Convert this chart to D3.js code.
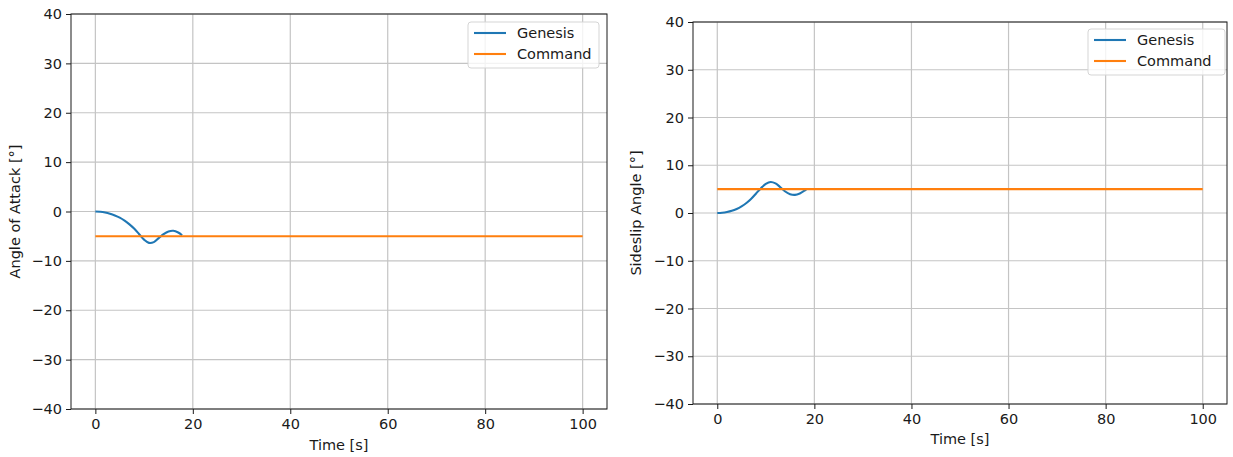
<!DOCTYPE html>
<html>
<head>
<meta charset="utf-8">
<script src="https://cdn.jsdelivr.net/npm/d3@7"></script>
<style>
  html, body { margin: 0; padding: 0; background: #fff; }
  svg { display: block; }
  text { font-family: "DejaVu Sans", sans-serif; fill: #1a1a1a; }
</style>
</head>
<body>
<svg id="chart" width="1233" height="457"></svg>
<script>
// ---------- DATA ----------
const xTicks = [0, 20, 40, 60, 80, 100];
const yTicks = [-40, -30, -20, -10, 0, 10, 20, 30, 40];
const seriesNames = ["Genesis", "Command"];

// Left panel: angle of attack
const aoaTime    = [0, 1, 2, 3, 4, 5, 6, 7, 8, 9, 10, 11, 12, 13, 14, 15, 16, 17, 17.8];
const aoaGenesis = [0, -0.05, -0.2, -0.45, -0.8, -1.25, -1.85, -2.6, -3.5, -4.6, -5.7, -6.35, -6.2, -5.4, -4.6, -4.05, -3.9, -4.25, -4.8];
const aoaCmdTime = [0, 100];
const aoaCommand = [-5, -5];

// Right panel: sideslip angle
const betaTime    = [0, 1, 2, 3, 4, 5, 6, 7, 8, 9, 10, 11, 12, 13, 14, 15, 16, 17, 18, 18.4];
const betaGenesis = [0, 0.05, 0.2, 0.45, 0.85, 1.4, 2.1, 3.0, 4.1, 5.2, 6.1, 6.5, 6.2, 5.4, 4.5, 3.95, 3.8, 4.1, 4.7, 5.0];
const betaCmdTime = [0, 100];
const betaCommand = [5, 5];

const colors = ["#1f77b4", "#ff7f0e"];

// ---------- DRAW ----------
const svg = d3.select("#chart");
const FS = 14.5;

function panel(opt) {
  const g = svg.append("g");
  const x = d3.scaleLinear().domain([-5, 105]).range([opt.left, opt.right]);
  const y = d3.scaleLinear().domain([-40, 40]).range([opt.bottom, opt.top]);

  // grid
  g.append("g").selectAll("line").data(xTicks).join("line")
    .attr("x1", d => x(d)).attr("x2", d => x(d))
    .attr("y1", opt.top).attr("y2", opt.bottom)
    .attr("stroke", "#c4c4c4").attr("stroke-width", 1.2);
  g.append("g").selectAll("line").data(yTicks).join("line")
    .attr("x1", opt.left).attr("x2", opt.right)
    .attr("y1", d => y(d)).attr("y2", d => y(d))
    .attr("stroke", "#c4c4c4").attr("stroke-width", 1.2);

  // lines
  const line = d3.line().x(d => x(d[0])).y(d => y(d[1])).curve(d3.curveCatmullRom.alpha(0.5));
  const gen = opt.t.map((t, i) => [t, opt.gen[i]]);
  const cmd = opt.ct.map((t, i) => [t, opt.cmd[i]]);
  g.append("path").datum(gen).attr("d", line)
    .attr("fill", "none").attr("stroke", colors[0]).attr("stroke-width", 2.1);
  g.append("path").datum(cmd).attr("d", line)
    .attr("fill", "none").attr("stroke", colors[1]).attr("stroke-width", 2.1);

  // axes
  const xAxis = d3.axisBottom(x).tickValues(xTicks).tickSize(5).tickPadding(5).tickFormat(d3.format("d"));
  const yAxis = d3.axisLeft(y).tickValues(yTicks).tickSize(5).tickPadding(4).tickFormat(d3.format("d"));
  const gx = g.append("g").attr("transform", `translate(0,${opt.bottom})`).call(xAxis);
  const gy = g.append("g").attr("transform", `translate(${opt.left},0)`).call(yAxis);
  [gx, gy].forEach(a => {
    a.select(".domain").remove();
    a.selectAll("line").attr("stroke", "#1a1a1a").attr("stroke-width", 1);
    a.selectAll("text").attr("font-size", FS).attr("font-family", "DejaVu Sans").attr("fill", "#1a1a1a");
  });

  // frame
  g.append("rect").attr("x", opt.left).attr("y", opt.top)
    .attr("width", opt.right - opt.left).attr("height", opt.bottom - opt.top)
    .attr("fill", "none").attr("stroke", "#1a1a1a").attr("stroke-width", 1);

  // labels
  g.append("text").attr("x", (x(0) + x(100)) / 2).attr("y", opt.xlabelY)
    .attr("text-anchor", "middle").attr("dominant-baseline", "central")
    .attr("font-size", FS).text("Time [s]");
  g.append("text")
    .attr("transform", `translate(${opt.ylabelX},${(opt.top + opt.bottom) / 2}) rotate(-90)`)
    .attr("text-anchor", "middle").attr("dominant-baseline", "central")
    .attr("font-size", FS).text(opt.ylabel);

  // legend
  const L = opt.legend;
  g.append("rect").attr("x", L.x).attr("y", L.y).attr("width", L.w).attr("height", L.h)
    .attr("rx", 3).attr("fill", "#fff").attr("fill-opacity", 0.8)
    .attr("stroke", "#d5d5d5").attr("stroke-width", 1);
  seriesNames.forEach((name, i) => {
    const cy = L.y + 11 + i * 21;
    g.append("line").attr("x1", L.x + 6).attr("x2", L.x + 38).attr("y1", cy).attr("y2", cy)
      .attr("stroke", colors[i]).attr("stroke-width", 2.1);
    g.append("text").attr("x", L.x + 49).attr("y", cy).attr("dominant-baseline", "central")
      .attr("font-size", FS).text(name);
  });
}

panel({
  left: 71, right: 607, top: 14, bottom: 409,
  t: aoaTime, gen: aoaGenesis, ct: aoaCmdTime, cmd: aoaCommand,
  ylabel: "Angle of Attack [°]", ylabelX: 15, xlabelY: 445,
  legend: { x: 468, y: 22, w: 131, h: 46 }
});
panel({
  left: 693, right: 1227, top: 22, bottom: 404,
  t: betaTime, gen: betaGenesis, ct: betaCmdTime, cmd: betaCommand,
  ylabel: "Sideslip Angle [°]", ylabelX: 636, xlabelY: 439,
  legend: { x: 1088, y: 29, w: 137, h: 46 }
});
</script>
</body>
</html>
